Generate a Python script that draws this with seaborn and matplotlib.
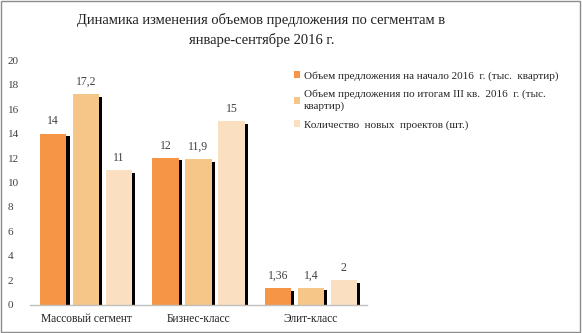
import matplotlib
matplotlib.use("Agg")
import matplotlib.pyplot as plt
import seaborn as sns
import pandas as pd
from matplotlib.patches import Rectangle

categories = ["Массовый сегмент", "Бизнес-класс", "Элит-класс"]
series_names = [
    "Объем предложения на начало 2016  г. (тыс.  квартир)",
    "Объем предложения по итогам III кв.  2016  г. (тыс.\nквартир)",
    "Количество  новых  проектов (шт.)",
]
values_start = [14, 12, 1.36]
values_q3 = [17.2, 11.9, 1.4]
values_projects = [11, 15, 2]
colors = ["#F69545", "#F6C588", "#FBDFC1"]
y_ticks = [0, 2, 4, 6, 8, 10, 12, 14, 16, 18, 20]

rows = []
for name, vals in zip(series_names, [values_start, values_q3, values_projects]):
    for c, v in zip(categories, vals):
        rows.append({"cat": c, "series": name, "value": v})
df = pd.DataFrame(rows)

sns.set_theme(style="white")
plt.rcParams["font.family"] = ["Liberation Serif", "DejaVu Serif"]

fig = plt.figure(figsize=(5.82, 3.33), dpi=100)
ax = fig.add_axes([0.0515, 0.0841, 0.5791, 0.7357])

sns.barplot(data=df, x="cat", y="value", hue="series", palette=colors,
            width=0.88, gap=0.2, ax=ax, legend=False, saturation=1,
            edgecolor="none")

def fmt(v):
    s = f"{v:g}"
    return s.replace(".", ",")

for container, vals in zip(ax.containers, [values_start, values_q3, values_projects]):
    for p, v in zip(container.patches, vals):
        x = p.get_x() + p.get_width()
        h = p.get_height()
        ax.add_patch(Rectangle((x, 0), 0.028, max(h - 0.2, 0), facecolor="black",
                               edgecolor="none", zorder=p.get_zorder() - 0.1))
        ax.text(p.get_x() + p.get_width() / 2, h + 0.5, fmt(v),
                ha="center", va="bottom", fontsize=8.5, color="#404040")

ax.set_ylim(0, 20)
ax.set_xlim(-0.5, 2.5)
ax.set_yticks(y_ticks)
ax.set_yticklabels([str(t) for t in y_ticks], fontsize=8, color="#404040")
ax.tick_params(axis="x", labelsize=8.3, colors="#202020", length=0, pad=6)
ax.set_xlabel("")
ax.set_ylabel("")
for s in ["top", "right", "left"]:
    ax.spines[s].set_visible(False)
ax.spines["bottom"].set_color("#BFBFBF")
ax.spines["bottom"].set_linewidth(1)
for lbl in ax.get_yticklabels():
    lbl.set_horizontalalignment("left")
ax.tick_params(axis="y", length=0, pad=16)

fig.suptitle("Динамика изменения объемов предложения по сегментам в\nянваре-сентябре 2016 г.",
             x=0.449, y=0.962, fontsize=10.5, color="#202020", linespacing=1.55)

handles = [Rectangle((0, 0), 1, 1, facecolor=c, edgecolor="none") for c in colors]
leg = fig.legend(handles, series_names, loc="upper left", bbox_to_anchor=(0.497, 0.80),
                 frameon=False, fontsize=8, handlelength=0.6, handleheight=0.6,
                 handletextpad=0.3, labelspacing=0.8, borderaxespad=0)
for t in leg.get_texts():
    t.set_linespacing(1.3)

fig.add_artist(Rectangle((0.002, 0.003), 0.995, 0.994, transform=fig.transFigure,
                         fill=False, edgecolor="#8C8C8C", linewidth=1))

fig.savefig("out.png", dpi=100)
